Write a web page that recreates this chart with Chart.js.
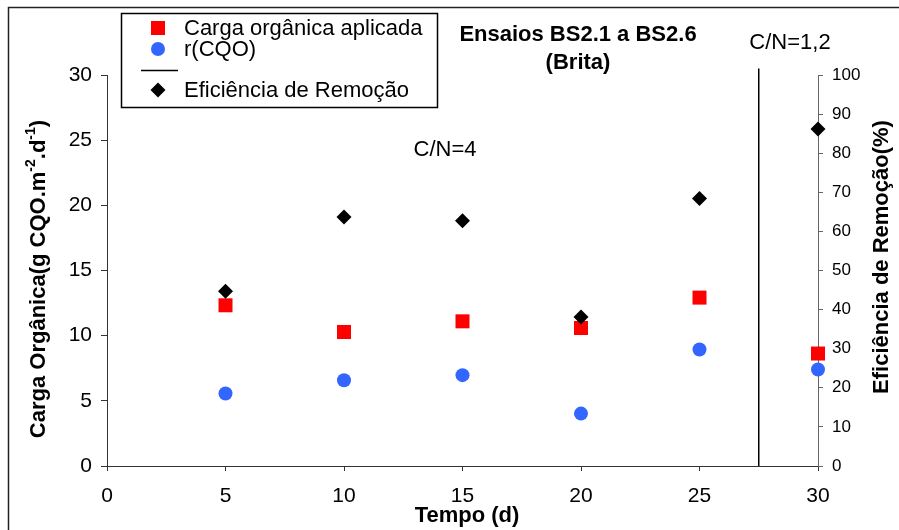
<!DOCTYPE html>
<html>
<head>
<meta charset="utf-8">
<script src="https://cdn.jsdelivr.net/npm/chart.js@4.4.1/dist/chart.umd.min.js"></script>
<style>
  html, body { margin: 0; padding: 0; background: #fff; }
  canvas { display: block; }
</style>
</head>
<body>
<canvas id="grafico" width="899" height="530"></canvas>
<script>
// Tempo de ensaio (d)
const tempo = [5, 10, 15, 20, 25, 30];
// Carga orgânica aplicada (g CQO.m-2.d-1)
const cargaAplicada = [12.33, 10.28, 11.10, 10.59, 12.92, 8.63];
// Carga removida r(CQO) (g CQO.m-2.d-1)
const rCQO = [5.56, 6.58, 6.97, 4.02, 8.94, 7.40];
// Eficiência de remoção (%)
const eficiencia = [44.7, 63.7, 62.7, 38.1, 68.4, 86.2];
// Linha de separação entre C/N=4 e C/N=1,2
const separacaoX = [27.5, 27.5];
const separacaoY = [0, 30.5];
// Marcas dos eixos
const ticksTempo = [0, 5, 10, 15, 20, 25, 30];
const ticksCarga = [0, 5, 10, 15, 20, 25, 30];
const ticksEficiencia = [0, 10, 20, 30, 40, 50, 60, 70, 80, 90, 100];

const FONTE = '"Liberation Sans", Arial, sans-serif';
const pares = (xs, ys) => xs.map((x, i) => ({ x: x, y: ys[i] }));
const fixarTicks = valores => scale => { scale.ticks = valores.map(v => ({ value: v })); };

// Textos, legenda e moldura desenhados sobre o canvas
const anotacoes = {
  id: 'anotacoes',
  beforeDraw(chart) {
    const ctx = chart.ctx;
    ctx.save();
    ctx.fillStyle = '#fff';
    ctx.fillRect(0, 0, chart.width, chart.height);
    ctx.strokeStyle = '#222';
    ctx.lineWidth = 1.5;
    ctx.beginPath();
    ctx.moveTo(8.5, chart.height);
    ctx.lineTo(8.5, 7.5);
    ctx.lineTo(chart.width, 7.5);
    ctx.stroke();
    ctx.restore();
  },
  afterDraw(chart) {
    const ctx = chart.ctx;
    ctx.save();
    ctx.fillStyle = '#000';
    ctx.textAlign = 'center';
    ctx.textBaseline = 'middle';

    // Título
    ctx.font = 'bold 22px ' + FONTE;
    ctx.fillText('Ensaios BS2.1 a BS2.6', 578, 35);
    ctx.fillText('(Brita)', 578, 63);

    // Rótulos das fases
    ctx.font = '22px ' + FONTE;
    ctx.fillText('C/N=4', 445, 150);
    ctx.fillText('C/N=1,2', 790, 43);

    // Título do eixo X
    ctx.font = 'bold 22px ' + FONTE;
    ctx.fillText('Tempo (d)', 467, 516);

    // Título do eixo direito
    ctx.save();
    ctx.translate(882, 257);
    ctx.rotate(-Math.PI / 2);
    ctx.fillText('Eficiência de Remoção(%)', 0, 0);
    ctx.restore();

    // Título do eixo esquerdo, com expoentes
    const partes = [
      { t: 'Carga Orgânica(g CQO.m', sup: false },
      { t: '-2', sup: true },
      { t: '.d', sup: false },
      { t: '-1', sup: true },
      { t: ')', sup: false }
    ];
    const fNormal = 'bold 22px ' + FONTE;
    const fSup = 'bold 14px ' + FONTE;
    let total = 0;
    partes.forEach(p => { ctx.font = p.sup ? fSup : fNormal; p.w = ctx.measureText(p.t).width; total += p.w; });
    ctx.save();
    ctx.translate(39, 279);
    ctx.rotate(-Math.PI / 2);
    ctx.textAlign = 'left';
    let px = -total / 2;
    partes.forEach(p => {
      ctx.font = p.sup ? fSup : fNormal;
      ctx.fillText(p.t, px, p.sup ? -8 : 0);
      px += p.w;
    });
    ctx.restore();

    // Legenda
    const caixa = { x: 121, y: 13, w: 316, h: 94 };
    ctx.fillStyle = '#fff';
    ctx.fillRect(caixa.x, caixa.y, caixa.w, caixa.h);
    ctx.strokeStyle = '#000';
    ctx.lineWidth = 1.5;
    ctx.strokeRect(caixa.x + 0.5, caixa.y + 0.5, caixa.w, caixa.h);
    const linhasY = [28, 49, 70, 90];
    const mx = 158;
    ctx.font = '22px ' + FONTE;
    ctx.textAlign = 'left';
    chart.data.datasets.forEach((ds, i) => {
      const y = linhasY[i];
      if (ds.showLine) {
        ctx.strokeStyle = ds.borderColor;
        ctx.lineWidth = ds.borderWidth;
        ctx.beginPath();
        ctx.moveTo(141, y + 0.5);
        ctx.lineTo(178, y + 0.5);
        ctx.stroke();
      } else {
        ctx.fillStyle = ds.pointBackgroundColor;
        ctx.beginPath();
        if (ds.pointStyle === 'rect') {
          ctx.rect(mx - 7, y - 7, 14, 14);
        } else if (ds.pointStyle === 'circle') {
          ctx.arc(mx, y, 7, 0, Math.PI * 2);
        } else {
          ctx.moveTo(mx, y - 7.5);
          ctx.lineTo(mx + 7.5, y);
          ctx.lineTo(mx, y + 7.5);
          ctx.lineTo(mx - 7.5, y);
          ctx.closePath();
        }
        ctx.fill();
      }
      if (ds.label) {
        ctx.fillStyle = '#000';
        ctx.fillText(ds.label, 184, y + 1);
      }
    });
    ctx.restore();
  }
};

new Chart(document.getElementById('grafico'), {
  type: 'scatter',
  data: {
    datasets: [
      {
        label: 'Carga orgânica aplicada',
        data: pares(tempo, cargaAplicada),
        yAxisID: 'y',
        pointStyle: 'rect',
        pointRadius: 9.9,
        pointBackgroundColor: '#FF0000',
        pointBorderWidth: 0,
        order: 4,
        clip: false
      },
      {
        label: 'r(CQO)',
        data: pares(tempo, rCQO),
        yAxisID: 'y',
        pointStyle: 'circle',
        pointRadius: 7,
        pointBackgroundColor: '#3366FF',
        pointBorderWidth: 0,
        order: 3,
        clip: false
      },
      {
        label: '',
        data: pares(separacaoX, separacaoY),
        yAxisID: 'y',
        showLine: true,
        borderColor: '#000',
        borderWidth: 1.5,
        pointRadius: 0,
        order: 2,
        clip: false
      },
      {
        label: 'Eficiência de Remoção',
        data: pares(tempo, eficiencia),
        yAxisID: 'y1',
        pointStyle: 'rectRot',
        pointRadius: 7.5,
        pointBackgroundColor: '#000',
        pointBorderWidth: 0,
        order: 1,
        clip: false
      }
    ]
  },
  options: {
    responsive: false,
    animation: false,
    events: [],
    layout: { padding: { top: 75, left: 0, right: 0, bottom: 0 } },
    plugins: { legend: { display: false }, tooltip: { enabled: false }, title: { display: false } },
    scales: {
      x: {
        type: 'linear',
        position: 'bottom',
        min: 0, max: 30,
        afterBuildTicks: fixarTicks(ticksTempo),
        afterFit: s => { s.height = 64; },
        grid: { drawOnChartArea: false, tickLength: 5, color: '#333', tickWidth: 1 },
        border: { color: '#333', width: 1 },
        ticks: { color: '#000', padding: 13, font: { family: FONTE, size: 21 }, maxRotation: 0 }
      },
      y: {
        type: 'linear',
        position: 'left',
        min: 0, max: 30,
        afterBuildTicks: fixarTicks(ticksCarga),
        afterFit: s => { s.width = 107; },
        grid: { drawOnChartArea: false, tickLength: 6, color: '#333' },
        border: { color: '#333', width: 1 },
        ticks: { color: '#000', padding: 9, font: { family: FONTE, size: 21 } }
      },
      y1: {
        type: 'linear',
        position: 'right',
        min: 0, max: 100,
        afterBuildTicks: fixarTicks(ticksEficiencia),
        afterFit: s => { s.width = 81; },
        grid: { drawOnChartArea: false, tickLength: 5, color: '#666' },
        border: { color: '#666', width: 1 },
        ticks: { color: '#000', padding: 9, font: { family: FONTE, size: 17 } }
      }
    }
  },
  plugins: [anotacoes]
});
</script>
</body>
</html>
